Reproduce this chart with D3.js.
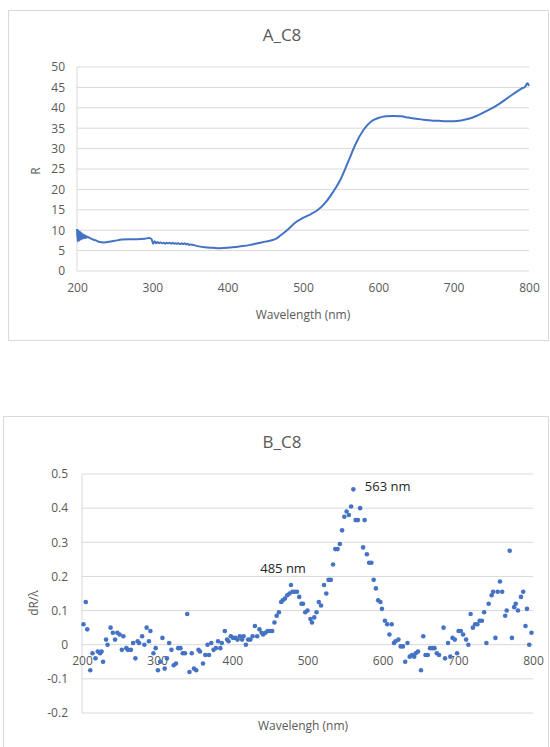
<!DOCTYPE html>
<html>
<head>
<meta charset="utf-8">
<script src="https://cdn.jsdelivr.net/npm/d3@7"></script>
<style>
  body { margin: 0; background: #fff; }
  text { font-family: "Open Sans", "Noto Sans", sans-serif; fill: #595959; }
</style>
</head>
<body>
<div id="chart"></div>
<script>
// Panel A: reflectance spectrum
const waveA = [200,201,202,203,204,205,206,207,208,209,210,211,212,213,214,216,218,220,225,230,235,240,250,260,270,280,290,296,299,
  301,303,305,307,309,311,313,315,317,319,321,323,325,327,329,331,333,335,337,339,341,343,345,347,349,351,
  360,370,380,390,400,410,420,430,440,450,460,465,470,480,490,500,510,520,530,540,550,560,570,580,590,600,
  610,620,630,640,650,660,670,680,690,700,710,720,730,740,750,760,770,780,790,795,798,800];
const reflA = [10.3,7.2,9.9,7.5,9.6,7.7,9.3,7.9,9.0,8.0,8.8,8.1,8.6,8.2,8.4,8.2,8.0,7.8,7.5,7.1,7.0,7.1,7.4,7.7,7.8,7.8,7.9,8.1,7.8,
  6.7,7.3,6.8,7.1,6.8,7.0,6.8,6.9,6.7,6.9,6.8,6.9,6.7,6.9,6.7,6.8,6.7,6.8,6.6,6.8,6.6,6.8,6.5,6.7,6.4,6.5,
  6.1,5.8,5.7,5.6,5.7,5.9,6.1,6.4,6.8,7.2,7.6,8.0,8.7,10.2,11.9,13.0,13.9,15.0,16.8,19.4,22.5,26.8,31.2,34.5,36.6,37.5,
  37.9,38.0,37.9,37.6,37.3,37.1,36.9,36.8,36.7,36.7,36.9,37.3,38.0,38.9,39.8,40.9,42.2,43.5,44.7,45.2,46.0,45.4];
const yTicksA = [0,5,10,15,20,25,30,35,40,45,50];

// Panel B: first derivative
const waveB = [202,205,207,211,214,218,221,224,226,228,232,234,238,241,244,247,250,253,255,259,261,265,268,271,274,276,280,283,286,289,291,295,298,
  301,304,307,310,313,316,319,322,325,328,331,334,337,340,343,346,349,352,355,357,361,364,367,369,372,375,378,381,384,386,390,393,395,398,
  401,404,407,410,413,415,418,421,424,427,430,433,436,439,441,444,447,450,453,456,459,462,465,467,470,473,476,478,480,483,486,489,492,494,497,
  500,504,506,509,512,515,518,522,525,528,531,534,537,540,543,546,549,552,555,558,561,564,567,570,574,576,579,582,585,588,591,594,597,599,
  603,606,609,612,615,617,621,624,627,630,633,636,639,642,644,647,651,654,657,660,663,666,669,672,675,681,683,687,690,693,696,699,
  701,704,707,711,714,717,720,723,726,729,732,735,738,741,745,747,750,753,756,759,763,765,769,772,775,777,780,784,787,790,792,795,798];
const derivB = [0.06,0.125,0.045,-0.075,-0.025,-0.04,-0.02,-0.025,-0.02,-0.05,0.015,0,0.05,0.035,0.015,0.035,0.03,-0.015,0.025,-0.01,-0.015,-0.015,0.005,-0.04,0.01,0.005,0.025,0,0.05,0.01,0.04,-0.025,-0.01,
  -0.075,-0.05,0.02,-0.07,-0.04,0.005,-0.015,-0.06,-0.055,-0.01,-0.01,-0.025,-0.025,0.09,-0.08,-0.025,-0.07,-0.075,-0.015,-0.02,-0.055,-0.03,0,-0.03,0.005,-0.015,-0.01,0.01,-0.01,0.005,0.04,0.015,0.01,0.025,
  0.02,0.02,0.015,0.025,0.015,0.025,0,0.015,0.015,0.025,0.055,0.025,0.045,0.035,0.03,0.035,0.04,0.04,0.04,0.065,0.085,0.095,0.125,0.13,0.135,0.145,0.15,0.175,0.155,0.155,0.155,0.14,0.12,0.12,0.095,
  0.1,0.075,0.065,0.08,0.095,0.125,0.115,0.175,0.15,0.19,0.19,0.235,0.28,0.28,0.295,0.335,0.375,0.39,0.38,0.405,0.455,0.365,0.365,0.4,0.285,0.365,0.265,0.24,0.24,0.19,0.165,0.13,0.125,0.105,
  0.07,0.06,0.03,0.06,0.005,0.01,0.015,-0.005,-0.005,-0.05,0.005,-0.035,-0.03,-0.035,-0.025,-0.02,-0.075,0.025,-0.03,-0.03,-0.01,-0.01,-0.01,-0.025,-0.03,0.05,-0.04,0.005,-0.035,0.02,0.015,-0.025,
  0.04,0.04,0.03,0.015,0,0.09,0.05,0.06,0.06,0.07,0.07,0.095,0.005,0.12,0.145,0.155,0.02,0.155,0.185,0.155,0.085,0.1,0.275,0.02,0.11,0.12,0.1,0.14,0.155,0.055,0.105,0,0.035];
const yTicksB = [-0.2,-0.1,0,0.1,0.2,0.3,0.4,0.5];
const xTicks = [200,300,400,500,600,700,800];
const peaks = [{ label: "563 nm", wave: 563, value: 0.455 }, { label: "485 nm", wave: 485, value: 0.175 }];

const blue = "#4472C4";
const grid = "#D9D9D9";

const svg = d3.select("#chart")
    .append("svg")
    .attr("width", 550)
    .attr("height", 747);

// ---------- Panel A ----------
svg.append("rect")
    .attr("x", 8.5).attr("y", 10.5).attr("width", 540).attr("height", 330)
    .attr("fill", "#fff").attr("stroke", grid);

const xA = d3.scaleLinear().domain([200, 800]).range([77, 529]);
const yA = d3.scaleLinear().domain([0, 50]).range([271, 67]);

const gA = svg.append("g");

gA.selectAll("line.grid")
    .data(yTicksA)
    .join("line")
    .attr("x1", xA(200)).attr("x2", xA(800))
    .attr("y1", d => yA(d)).attr("y2", d => yA(d))
    .attr("stroke", grid);

gA.append("line")
    .attr("x1", xA(200)).attr("x2", xA(200))
    .attr("y1", yA(0)).attr("y2", yA(50))
    .attr("stroke", grid);

gA.append("g")
    .attr("transform", `translate(0,${yA(0)})`)
    .call(d3.axisBottom(xA).tickValues(xTicks).tickSize(0).tickPadding(12))
    .call(g => g.select(".domain").remove())
    .call(g => g.selectAll("text").style("font-size", "12px").attr("fill", "#595959"));

gA.append("g")
    .attr("transform", `translate(${xA(200)},0)`)
    .call(d3.axisLeft(yA).tickValues(yTicksA).tickSize(0).tickPadding(12))
    .call(g => g.select(".domain").remove())
    .call(g => g.selectAll("text").style("font-size", "12px").attr("fill", "#595959"));

const lineA = d3.line()
    .x((d, i) => xA(waveA[i]))
    .y(d => yA(d))
    .curve(d3.curveMonotoneX);

gA.append("path")
    .datum(reflA)
    .attr("d", lineA)
    .attr("fill", "none")
    .attr("stroke", blue)
    .attr("stroke-width", 2);

gA.append("text")
    .attr("x", 282).attr("y", 41)
    .attr("text-anchor", "middle")
    .style("font-size", "17px")
    .text("A_C8");

gA.append("text")
    .attr("x", 303).attr("y", 319)
    .attr("text-anchor", "middle")
    .style("font-size", "12px")
    .text("Wavelength (nm)");

gA.append("text")
    .attr("transform", "translate(40,171) rotate(-90)")
    .attr("text-anchor", "middle")
    .style("font-size", "12px")
    .text("R");

// ---------- Panel B ----------
svg.append("rect")
    .attr("x", 3.5).attr("y", 416.5).attr("width", 545).attr("height", 340)
    .attr("fill", "#fff").attr("stroke", grid);

const xB = d3.scaleLinear().domain([200, 800]).range([82, 533]);
const yB = d3.scaleLinear().domain([-0.2, 0.5]).range([713, 474]);

const gB = svg.append("g");

gB.selectAll("line.grid")
    .data(yTicksB)
    .join("line")
    .attr("x1", xB(200)).attr("x2", xB(800))
    .attr("y1", d => yB(d)).attr("y2", d => yB(d))
    .attr("stroke", grid);

gB.append("line")
    .attr("x1", xB(200)).attr("x2", xB(200))
    .attr("y1", yB(-0.2)).attr("y2", yB(0.5))
    .attr("stroke", grid);

gB.append("g")
    .attr("transform", `translate(0,${yB(0)})`)
    .call(d3.axisBottom(xB).tickValues(xTicks).tickSize(0).tickPadding(12))
    .call(g => g.select(".domain").remove())
    .call(g => g.selectAll("text").style("font-size", "12px").attr("fill", "#595959"));

gB.append("g")
    .attr("transform", `translate(${xB(200)},0)`)
    .call(d3.axisLeft(yB).tickValues(yTicksB).tickSize(0).tickPadding(14).tickFormat(d => String(Math.round(d * 10) / 10)))
    .call(g => g.select(".domain").remove())
    .call(g => g.selectAll("text").style("font-size", "12px").attr("fill", "#595959"));

gB.selectAll("circle")
    .data(derivB)
    .join("circle")
    .attr("cx", (d, i) => xB(waveB[i]))
    .attr("cy", d => yB(d))
    .attr("r", 2.3)
    .attr("fill", blue);

gB.selectAll("text.peak")
    .data(peaks)
    .join("text")
    .attr("class", "peak")
    .attr("x", d => d.label === "563 nm" ? xB(d.wave) + 10 : xB(d.wave) - 36)
    .attr("y", d => d.label === "563 nm" ? yB(d.value) + 2 : yB(d.value) - 12)
    .style("font-size", "13px")
    .style("fill", "#262626")
    .text(d => d.label);

gB.append("text")
    .attr("x", 282).attr("y", 448)
    .attr("text-anchor", "middle")
    .style("font-size", "17px")
    .text("B_C8");

gB.append("text")
    .attr("x", 303).attr("y", 730)
    .attr("text-anchor", "middle")
    .style("font-size", "12px")
    .text("Wavelengh (nm)");

gB.append("text")
    .attr("transform", "translate(38,603) rotate(-90)")
    .attr("text-anchor", "middle")
    .style("font-size", "12px")
    .text("dR/λ");
</script>
</body>
</html>
